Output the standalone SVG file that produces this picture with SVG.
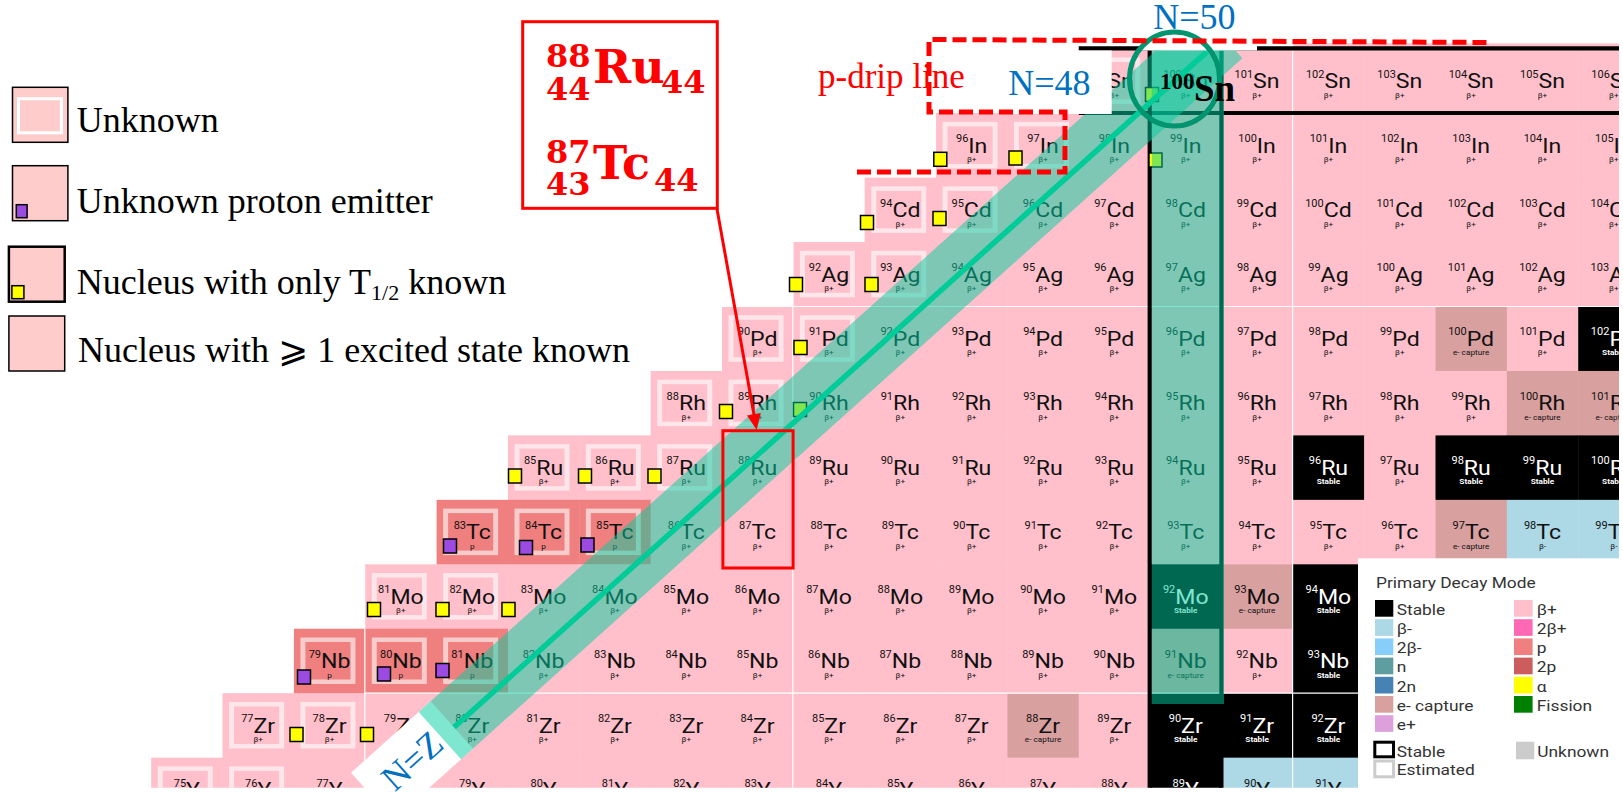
<svg xmlns="http://www.w3.org/2000/svg" width="1623" height="801" viewBox="0 0 1623 801">
<defs>
<style>
.bp{fill:#FFC0CB}.st{fill:#000}.ec{fill:#D9A0A0}.pp{fill:#F08080}.bm{fill:#ADD8E6}
.s{font-family:Roboto,'Liberation Sans',sans-serif;font-size:21px;text-anchor:middle;fill:#111}
.m{font-size:10px}
.d{font-family:Roboto,'Liberation Sans',sans-serif;font-size:7.5px;text-anchor:middle;fill:#111}
.w .s,.w .d{fill:#fff}.w .d{font-weight:bold}
.es{fill:none;stroke:#fff;stroke-opacity:.6;stroke-width:4.5}
.ym{fill:#FFFF00;stroke:#000;stroke-width:1.5}.pm{fill:#9B4BE2;stroke:#000;stroke-width:1.5}
.lg{font-family:'Liberation Serif','DejaVu Sans',serif;font-size:36px;fill:#000}
.bl{font-family:'Liberation Serif',serif;font-size:36px;fill:#0070C0}
.rd{font-family:'DejaVu Serif','Liberation Serif',serif;font-weight:bold;fill:#FF0000}
.lt{font-family:Roboto,'Liberation Sans',sans-serif;font-size:15.5px;fill:#333}
.ov{fill:#00CDA0;fill-opacity:.5}
.mg{stroke:#000;stroke-width:4.2}
.tl{stroke:#fff;stroke-width:1.2}
</style>
<clipPath id="cc"><rect x="0" y="43" width="1619" height="744.7"/></clipPath>
</defs>
<rect width="1623" height="801" fill="#fff"/>

<g id="chart" clip-path="url(#cc)">
<rect id="sb-sliver" x="1292.8" y="43.3" width="330" height="5.6" class="bp"/>
<!-- Sn -->
<g id="Sn99" transform="translate(1078.75 48.7) scale(1.1 1)"><rect class="bp" width="65.3" height="65"/><rect class="es" x="8.2" y="11" width="45.5" height="42"/><text class="s" x="32.4" y="39.5"><tspan class="m" dy="-10.5">99</tspan><tspan dy="10.5">Sn</tspan></text><text class="d" x="32.4" y="49">β+</text></g>
<g id="Sn100" transform="translate(1150.1 48.7) scale(1.1 1)"><rect class="bp" width="65.3" height="65"/><text class="s" x="32.4" y="39.5"><tspan class="m" dy="-10.5">100</tspan><tspan dy="10.5">Sn</tspan></text><text class="d" x="32.4" y="49">β+</text></g>
<g id="Sn101" transform="translate(1221.45 48.7) scale(1.1 1)"><rect class="bp" width="65.3" height="65"/><text class="s" x="32.4" y="39.5"><tspan class="m" dy="-10.5">101</tspan><tspan dy="10.5">Sn</tspan></text><text class="d" x="32.4" y="49">β+</text></g>
<g id="Sn102" transform="translate(1292.8 48.7) scale(1.1 1)"><rect class="bp" width="65.3" height="65"/><text class="s" x="32.4" y="39.5"><tspan class="m" dy="-10.5">102</tspan><tspan dy="10.5">Sn</tspan></text><text class="d" x="32.4" y="49">β+</text></g>
<g id="Sn103" transform="translate(1364.15 48.7) scale(1.1 1)"><rect class="bp" width="65.3" height="65"/><text class="s" x="32.4" y="39.5"><tspan class="m" dy="-10.5">103</tspan><tspan dy="10.5">Sn</tspan></text><text class="d" x="32.4" y="49">β+</text></g>
<g id="Sn104" transform="translate(1435.5 48.7) scale(1.1 1)"><rect class="bp" width="65.3" height="65"/><text class="s" x="32.4" y="39.5"><tspan class="m" dy="-10.5">104</tspan><tspan dy="10.5">Sn</tspan></text><text class="d" x="32.4" y="49">β+</text></g>
<g id="Sn105" transform="translate(1506.85 48.7) scale(1.1 1)"><rect class="bp" width="65.3" height="65"/><text class="s" x="32.4" y="39.5"><tspan class="m" dy="-10.5">105</tspan><tspan dy="10.5">Sn</tspan></text><text class="d" x="32.4" y="49">β+</text></g>
<g id="Sn106" transform="translate(1578.2 48.7) scale(1.1 1)"><rect class="bp" width="65.3" height="65"/><text class="s" x="32.4" y="39.5"><tspan class="m" dy="-10.5">106</tspan><tspan dy="10.5">Sn</tspan></text><text class="d" x="32.4" y="49">β+</text></g>
<!-- In -->
<g id="In96" transform="translate(936.05 113.15) scale(1.1 1)"><rect class="bp" width="65.3" height="65"/><rect class="es" x="8.2" y="11" width="45.5" height="42"/><text class="s" x="32.4" y="39.5"><tspan class="m" dy="-10.5">96</tspan><tspan dy="10.5">In</tspan></text><text class="d" x="32.4" y="49">β+</text></g>
<g id="In97" transform="translate(1007.4 113.15) scale(1.1 1)"><rect class="bp" width="65.3" height="65"/><rect class="es" x="8.2" y="11" width="45.5" height="42"/><text class="s" x="32.4" y="39.5"><tspan class="m" dy="-10.5">97</tspan><tspan dy="10.5">In</tspan></text><text class="d" x="32.4" y="49">β+</text></g>
<g id="In98" transform="translate(1078.75 113.15) scale(1.1 1)"><rect class="bp" width="65.3" height="65"/><text class="s" x="32.4" y="39.5"><tspan class="m" dy="-10.5">98</tspan><tspan dy="10.5">In</tspan></text><text class="d" x="32.4" y="49">β+</text></g>
<g id="In99" transform="translate(1150.1 113.15) scale(1.1 1)"><rect class="bp" width="65.3" height="65"/><text class="s" x="32.4" y="39.5"><tspan class="m" dy="-10.5">99</tspan><tspan dy="10.5">In</tspan></text><text class="d" x="32.4" y="49">β+</text></g>
<g id="In100" transform="translate(1221.45 113.15) scale(1.1 1)"><rect class="bp" width="65.3" height="65"/><text class="s" x="32.4" y="39.5"><tspan class="m" dy="-10.5">100</tspan><tspan dy="10.5">In</tspan></text><text class="d" x="32.4" y="49">β+</text></g>
<g id="In101" transform="translate(1292.8 113.15) scale(1.1 1)"><rect class="bp" width="65.3" height="65"/><text class="s" x="32.4" y="39.5"><tspan class="m" dy="-10.5">101</tspan><tspan dy="10.5">In</tspan></text><text class="d" x="32.4" y="49">β+</text></g>
<g id="In102" transform="translate(1364.15 113.15) scale(1.1 1)"><rect class="bp" width="65.3" height="65"/><text class="s" x="32.4" y="39.5"><tspan class="m" dy="-10.5">102</tspan><tspan dy="10.5">In</tspan></text><text class="d" x="32.4" y="49">β+</text></g>
<g id="In103" transform="translate(1435.5 113.15) scale(1.1 1)"><rect class="bp" width="65.3" height="65"/><text class="s" x="32.4" y="39.5"><tspan class="m" dy="-10.5">103</tspan><tspan dy="10.5">In</tspan></text><text class="d" x="32.4" y="49">β+</text></g>
<g id="In104" transform="translate(1506.85 113.15) scale(1.1 1)"><rect class="bp" width="65.3" height="65"/><text class="s" x="32.4" y="39.5"><tspan class="m" dy="-10.5">104</tspan><tspan dy="10.5">In</tspan></text><text class="d" x="32.4" y="49">β+</text></g>
<g id="In105" transform="translate(1578.2 113.15) scale(1.1 1)"><rect class="bp" width="65.3" height="65"/><text class="s" x="32.4" y="39.5"><tspan class="m" dy="-10.5">105</tspan><tspan dy="10.5">In</tspan></text><text class="d" x="32.4" y="49">β+</text></g>
<!-- Cd -->
<g id="Cd94" transform="translate(864.7 177.6) scale(1.1 1)"><rect class="bp" width="65.3" height="65"/><rect class="es" x="8.2" y="11" width="45.5" height="42"/><text class="s" x="32.4" y="39.5"><tspan class="m" dy="-10.5">94</tspan><tspan dy="10.5">Cd</tspan></text><text class="d" x="32.4" y="49">β+</text></g>
<g id="Cd95" transform="translate(936.05 177.6) scale(1.1 1)"><rect class="bp" width="65.3" height="65"/><rect class="es" x="8.2" y="11" width="45.5" height="42"/><text class="s" x="32.4" y="39.5"><tspan class="m" dy="-10.5">95</tspan><tspan dy="10.5">Cd</tspan></text><text class="d" x="32.4" y="49">β+</text></g>
<g id="Cd96" transform="translate(1007.4 177.6) scale(1.1 1)"><rect class="bp" width="65.3" height="65"/><text class="s" x="32.4" y="39.5"><tspan class="m" dy="-10.5">96</tspan><tspan dy="10.5">Cd</tspan></text><text class="d" x="32.4" y="49">β+</text></g>
<g id="Cd97" transform="translate(1078.75 177.6) scale(1.1 1)"><rect class="bp" width="65.3" height="65"/><text class="s" x="32.4" y="39.5"><tspan class="m" dy="-10.5">97</tspan><tspan dy="10.5">Cd</tspan></text><text class="d" x="32.4" y="49">β+</text></g>
<g id="Cd98" transform="translate(1150.1 177.6) scale(1.1 1)"><rect class="bp" width="65.3" height="65"/><text class="s" x="32.4" y="39.5"><tspan class="m" dy="-10.5">98</tspan><tspan dy="10.5">Cd</tspan></text><text class="d" x="32.4" y="49">β+</text></g>
<g id="Cd99" transform="translate(1221.45 177.6) scale(1.1 1)"><rect class="bp" width="65.3" height="65"/><text class="s" x="32.4" y="39.5"><tspan class="m" dy="-10.5">99</tspan><tspan dy="10.5">Cd</tspan></text><text class="d" x="32.4" y="49">β+</text></g>
<g id="Cd100" transform="translate(1292.8 177.6) scale(1.1 1)"><rect class="bp" width="65.3" height="65"/><text class="s" x="32.4" y="39.5"><tspan class="m" dy="-10.5">100</tspan><tspan dy="10.5">Cd</tspan></text><text class="d" x="32.4" y="49">β+</text></g>
<g id="Cd101" transform="translate(1364.15 177.6) scale(1.1 1)"><rect class="bp" width="65.3" height="65"/><text class="s" x="32.4" y="39.5"><tspan class="m" dy="-10.5">101</tspan><tspan dy="10.5">Cd</tspan></text><text class="d" x="32.4" y="49">β+</text></g>
<g id="Cd102" transform="translate(1435.5 177.6) scale(1.1 1)"><rect class="bp" width="65.3" height="65"/><text class="s" x="32.4" y="39.5"><tspan class="m" dy="-10.5">102</tspan><tspan dy="10.5">Cd</tspan></text><text class="d" x="32.4" y="49">β+</text></g>
<g id="Cd103" transform="translate(1506.85 177.6) scale(1.1 1)"><rect class="bp" width="65.3" height="65"/><text class="s" x="32.4" y="39.5"><tspan class="m" dy="-10.5">103</tspan><tspan dy="10.5">Cd</tspan></text><text class="d" x="32.4" y="49">β+</text></g>
<g id="Cd104" transform="translate(1578.2 177.6) scale(1.1 1)"><rect class="bp" width="65.3" height="65"/><text class="s" x="32.4" y="39.5"><tspan class="m" dy="-10.5">104</tspan><tspan dy="10.5">Cd</tspan></text><text class="d" x="32.4" y="49">β+</text></g>
<!-- Ag -->
<g id="Ag92" transform="translate(793.35 242.05) scale(1.1 1)"><rect class="bp" width="65.3" height="65"/><rect class="es" x="8.2" y="11" width="45.5" height="42"/><text class="s" x="32.4" y="39.5"><tspan class="m" dy="-10.5">92</tspan><tspan dy="10.5">Ag</tspan></text><text class="d" x="32.4" y="49">β+</text></g>
<g id="Ag93" transform="translate(864.7 242.05) scale(1.1 1)"><rect class="bp" width="65.3" height="65"/><rect class="es" x="8.2" y="11" width="45.5" height="42"/><text class="s" x="32.4" y="39.5"><tspan class="m" dy="-10.5">93</tspan><tspan dy="10.5">Ag</tspan></text><text class="d" x="32.4" y="49">β+</text></g>
<g id="Ag94" transform="translate(936.05 242.05) scale(1.1 1)"><rect class="bp" width="65.3" height="65"/><text class="s" x="32.4" y="39.5"><tspan class="m" dy="-10.5">94</tspan><tspan dy="10.5">Ag</tspan></text><text class="d" x="32.4" y="49">β+</text></g>
<g id="Ag95" transform="translate(1007.4 242.05) scale(1.1 1)"><rect class="bp" width="65.3" height="65"/><text class="s" x="32.4" y="39.5"><tspan class="m" dy="-10.5">95</tspan><tspan dy="10.5">Ag</tspan></text><text class="d" x="32.4" y="49">β+</text></g>
<g id="Ag96" transform="translate(1078.75 242.05) scale(1.1 1)"><rect class="bp" width="65.3" height="65"/><text class="s" x="32.4" y="39.5"><tspan class="m" dy="-10.5">96</tspan><tspan dy="10.5">Ag</tspan></text><text class="d" x="32.4" y="49">β+</text></g>
<g id="Ag97" transform="translate(1150.1 242.05) scale(1.1 1)"><rect class="bp" width="65.3" height="65"/><text class="s" x="32.4" y="39.5"><tspan class="m" dy="-10.5">97</tspan><tspan dy="10.5">Ag</tspan></text><text class="d" x="32.4" y="49">β+</text></g>
<g id="Ag98" transform="translate(1221.45 242.05) scale(1.1 1)"><rect class="bp" width="65.3" height="65"/><text class="s" x="32.4" y="39.5"><tspan class="m" dy="-10.5">98</tspan><tspan dy="10.5">Ag</tspan></text><text class="d" x="32.4" y="49">β+</text></g>
<g id="Ag99" transform="translate(1292.8 242.05) scale(1.1 1)"><rect class="bp" width="65.3" height="65"/><text class="s" x="32.4" y="39.5"><tspan class="m" dy="-10.5">99</tspan><tspan dy="10.5">Ag</tspan></text><text class="d" x="32.4" y="49">β+</text></g>
<g id="Ag100" transform="translate(1364.15 242.05) scale(1.1 1)"><rect class="bp" width="65.3" height="65"/><text class="s" x="32.4" y="39.5"><tspan class="m" dy="-10.5">100</tspan><tspan dy="10.5">Ag</tspan></text><text class="d" x="32.4" y="49">β+</text></g>
<g id="Ag101" transform="translate(1435.5 242.05) scale(1.1 1)"><rect class="bp" width="65.3" height="65"/><text class="s" x="32.4" y="39.5"><tspan class="m" dy="-10.5">101</tspan><tspan dy="10.5">Ag</tspan></text><text class="d" x="32.4" y="49">β+</text></g>
<g id="Ag102" transform="translate(1506.85 242.05) scale(1.1 1)"><rect class="bp" width="65.3" height="65"/><text class="s" x="32.4" y="39.5"><tspan class="m" dy="-10.5">102</tspan><tspan dy="10.5">Ag</tspan></text><text class="d" x="32.4" y="49">β+</text></g>
<g id="Ag103" transform="translate(1578.2 242.05) scale(1.1 1)"><rect class="bp" width="65.3" height="65"/><text class="s" x="32.4" y="39.5"><tspan class="m" dy="-10.5">103</tspan><tspan dy="10.5">Ag</tspan></text><text class="d" x="32.4" y="49">β+</text></g>
<!-- Pd -->
<g id="Pd90" transform="translate(722 306.5) scale(1.1 1)"><rect class="bp" width="65.3" height="65"/><rect class="es" x="8.2" y="11" width="45.5" height="42"/><text class="s" x="32.4" y="39.5"><tspan class="m" dy="-10.5">90</tspan><tspan dy="10.5">Pd</tspan></text><text class="d" x="32.4" y="49">β+</text></g>
<g id="Pd91" transform="translate(793.35 306.5) scale(1.1 1)"><rect class="bp" width="65.3" height="65"/><rect class="es" x="8.2" y="11" width="45.5" height="42"/><text class="s" x="32.4" y="39.5"><tspan class="m" dy="-10.5">91</tspan><tspan dy="10.5">Pd</tspan></text><text class="d" x="32.4" y="49">β+</text></g>
<g id="Pd92" transform="translate(864.7 306.5) scale(1.1 1)"><rect class="bp" width="65.3" height="65"/><text class="s" x="32.4" y="39.5"><tspan class="m" dy="-10.5">92</tspan><tspan dy="10.5">Pd</tspan></text><text class="d" x="32.4" y="49">β+</text></g>
<g id="Pd93" transform="translate(936.05 306.5) scale(1.1 1)"><rect class="bp" width="65.3" height="65"/><text class="s" x="32.4" y="39.5"><tspan class="m" dy="-10.5">93</tspan><tspan dy="10.5">Pd</tspan></text><text class="d" x="32.4" y="49">β+</text></g>
<g id="Pd94" transform="translate(1007.4 306.5) scale(1.1 1)"><rect class="bp" width="65.3" height="65"/><text class="s" x="32.4" y="39.5"><tspan class="m" dy="-10.5">94</tspan><tspan dy="10.5">Pd</tspan></text><text class="d" x="32.4" y="49">β+</text></g>
<g id="Pd95" transform="translate(1078.75 306.5) scale(1.1 1)"><rect class="bp" width="65.3" height="65"/><text class="s" x="32.4" y="39.5"><tspan class="m" dy="-10.5">95</tspan><tspan dy="10.5">Pd</tspan></text><text class="d" x="32.4" y="49">β+</text></g>
<g id="Pd96" transform="translate(1150.1 306.5) scale(1.1 1)"><rect class="bp" width="65.3" height="65"/><text class="s" x="32.4" y="39.5"><tspan class="m" dy="-10.5">96</tspan><tspan dy="10.5">Pd</tspan></text><text class="d" x="32.4" y="49">β+</text></g>
<g id="Pd97" transform="translate(1221.45 306.5) scale(1.1 1)"><rect class="bp" width="65.3" height="65"/><text class="s" x="32.4" y="39.5"><tspan class="m" dy="-10.5">97</tspan><tspan dy="10.5">Pd</tspan></text><text class="d" x="32.4" y="49">β+</text></g>
<g id="Pd98" transform="translate(1292.8 306.5) scale(1.1 1)"><rect class="bp" width="65.3" height="65"/><text class="s" x="32.4" y="39.5"><tspan class="m" dy="-10.5">98</tspan><tspan dy="10.5">Pd</tspan></text><text class="d" x="32.4" y="49">β+</text></g>
<g id="Pd99" transform="translate(1364.15 306.5) scale(1.1 1)"><rect class="bp" width="65.3" height="65"/><text class="s" x="32.4" y="39.5"><tspan class="m" dy="-10.5">99</tspan><tspan dy="10.5">Pd</tspan></text><text class="d" x="32.4" y="49">β+</text></g>
<g id="Pd100" transform="translate(1435.5 306.5) scale(1.1 1)"><rect class="ec" width="65.3" height="65"/><text class="s" x="32.4" y="39.5"><tspan class="m" dy="-10.5">100</tspan><tspan dy="10.5">Pd</tspan></text><text class="d" x="32.4" y="49">e- capture</text></g>
<g id="Pd101" transform="translate(1506.85 306.5) scale(1.1 1)"><rect class="bp" width="65.3" height="65"/><text class="s" x="32.4" y="39.5"><tspan class="m" dy="-10.5">101</tspan><tspan dy="10.5">Pd</tspan></text><text class="d" x="32.4" y="49">β+</text></g>
<g id="Pd102" class="w" transform="translate(1578.2 306.5) scale(1.1 1)"><rect class="st" width="65.3" height="65"/><text class="s" x="32.4" y="39.5"><tspan class="m" dy="-10.5">102</tspan><tspan dy="10.5">Pd</tspan></text><text class="d" x="32.4" y="49">Stable</text></g>
<!-- Rh -->
<g id="Rh88" transform="translate(650.65 370.95) scale(1.1 1)"><rect class="bp" width="65.3" height="65"/><rect class="es" x="8.2" y="11" width="45.5" height="42"/><text class="s" x="32.4" y="39.5"><tspan class="m" dy="-10.5">88</tspan><tspan dy="10.5">Rh</tspan></text><text class="d" x="32.4" y="49">β+</text></g>
<g id="Rh89" transform="translate(722 370.95) scale(1.1 1)"><rect class="bp" width="65.3" height="65"/><rect class="es" x="8.2" y="11" width="45.5" height="42"/><text class="s" x="32.4" y="39.5"><tspan class="m" dy="-10.5">89</tspan><tspan dy="10.5">Rh</tspan></text><text class="d" x="32.4" y="49">β+</text></g>
<g id="Rh90" transform="translate(793.35 370.95) scale(1.1 1)"><rect class="bp" width="65.3" height="65"/><text class="s" x="32.4" y="39.5"><tspan class="m" dy="-10.5">90</tspan><tspan dy="10.5">Rh</tspan></text><text class="d" x="32.4" y="49">β+</text></g>
<g id="Rh91" transform="translate(864.7 370.95) scale(1.1 1)"><rect class="bp" width="65.3" height="65"/><text class="s" x="32.4" y="39.5"><tspan class="m" dy="-10.5">91</tspan><tspan dy="10.5">Rh</tspan></text><text class="d" x="32.4" y="49">β+</text></g>
<g id="Rh92" transform="translate(936.05 370.95) scale(1.1 1)"><rect class="bp" width="65.3" height="65"/><text class="s" x="32.4" y="39.5"><tspan class="m" dy="-10.5">92</tspan><tspan dy="10.5">Rh</tspan></text><text class="d" x="32.4" y="49">β+</text></g>
<g id="Rh93" transform="translate(1007.4 370.95) scale(1.1 1)"><rect class="bp" width="65.3" height="65"/><text class="s" x="32.4" y="39.5"><tspan class="m" dy="-10.5">93</tspan><tspan dy="10.5">Rh</tspan></text><text class="d" x="32.4" y="49">β+</text></g>
<g id="Rh94" transform="translate(1078.75 370.95) scale(1.1 1)"><rect class="bp" width="65.3" height="65"/><text class="s" x="32.4" y="39.5"><tspan class="m" dy="-10.5">94</tspan><tspan dy="10.5">Rh</tspan></text><text class="d" x="32.4" y="49">β+</text></g>
<g id="Rh95" transform="translate(1150.1 370.95) scale(1.1 1)"><rect class="bp" width="65.3" height="65"/><text class="s" x="32.4" y="39.5"><tspan class="m" dy="-10.5">95</tspan><tspan dy="10.5">Rh</tspan></text><text class="d" x="32.4" y="49">β+</text></g>
<g id="Rh96" transform="translate(1221.45 370.95) scale(1.1 1)"><rect class="bp" width="65.3" height="65"/><text class="s" x="32.4" y="39.5"><tspan class="m" dy="-10.5">96</tspan><tspan dy="10.5">Rh</tspan></text><text class="d" x="32.4" y="49">β+</text></g>
<g id="Rh97" transform="translate(1292.8 370.95) scale(1.1 1)"><rect class="bp" width="65.3" height="65"/><text class="s" x="32.4" y="39.5"><tspan class="m" dy="-10.5">97</tspan><tspan dy="10.5">Rh</tspan></text><text class="d" x="32.4" y="49">β+</text></g>
<g id="Rh98" transform="translate(1364.15 370.95) scale(1.1 1)"><rect class="bp" width="65.3" height="65"/><text class="s" x="32.4" y="39.5"><tspan class="m" dy="-10.5">98</tspan><tspan dy="10.5">Rh</tspan></text><text class="d" x="32.4" y="49">β+</text></g>
<g id="Rh99" transform="translate(1435.5 370.95) scale(1.1 1)"><rect class="bp" width="65.3" height="65"/><text class="s" x="32.4" y="39.5"><tspan class="m" dy="-10.5">99</tspan><tspan dy="10.5">Rh</tspan></text><text class="d" x="32.4" y="49">β+</text></g>
<g id="Rh100" transform="translate(1506.85 370.95) scale(1.1 1)"><rect class="ec" width="65.3" height="65"/><text class="s" x="32.4" y="39.5"><tspan class="m" dy="-10.5">100</tspan><tspan dy="10.5">Rh</tspan></text><text class="d" x="32.4" y="49">e- capture</text></g>
<g id="Rh101" transform="translate(1578.2 370.95) scale(1.1 1)"><rect class="ec" width="65.3" height="65"/><text class="s" x="32.4" y="39.5"><tspan class="m" dy="-10.5">101</tspan><tspan dy="10.5">Rh</tspan></text><text class="d" x="32.4" y="49">e- capture</text></g>
<!-- Ru -->
<g id="Ru85" transform="translate(507.95 435.4) scale(1.1 1)"><rect class="bp" width="65.3" height="65"/><rect class="es" x="8.2" y="11" width="45.5" height="42"/><text class="s" x="32.4" y="39.5"><tspan class="m" dy="-10.5">85</tspan><tspan dy="10.5">Ru</tspan></text><text class="d" x="32.4" y="49">β+</text></g>
<g id="Ru86" transform="translate(579.3 435.4) scale(1.1 1)"><rect class="bp" width="65.3" height="65"/><rect class="es" x="8.2" y="11" width="45.5" height="42"/><text class="s" x="32.4" y="39.5"><tspan class="m" dy="-10.5">86</tspan><tspan dy="10.5">Ru</tspan></text><text class="d" x="32.4" y="49">β+</text></g>
<g id="Ru87" transform="translate(650.65 435.4) scale(1.1 1)"><rect class="bp" width="65.3" height="65"/><rect class="es" x="8.2" y="11" width="45.5" height="42"/><text class="s" x="32.4" y="39.5"><tspan class="m" dy="-10.5">87</tspan><tspan dy="10.5">Ru</tspan></text><text class="d" x="32.4" y="49">β+</text></g>
<g id="Ru88" transform="translate(722 435.4) scale(1.1 1)"><rect class="bp" width="65.3" height="65"/><text class="s" x="32.4" y="39.5"><tspan class="m" dy="-10.5">88</tspan><tspan dy="10.5">Ru</tspan></text><text class="d" x="32.4" y="49">β+</text></g>
<g id="Ru89" transform="translate(793.35 435.4) scale(1.1 1)"><rect class="bp" width="65.3" height="65"/><text class="s" x="32.4" y="39.5"><tspan class="m" dy="-10.5">89</tspan><tspan dy="10.5">Ru</tspan></text><text class="d" x="32.4" y="49">β+</text></g>
<g id="Ru90" transform="translate(864.7 435.4) scale(1.1 1)"><rect class="bp" width="65.3" height="65"/><text class="s" x="32.4" y="39.5"><tspan class="m" dy="-10.5">90</tspan><tspan dy="10.5">Ru</tspan></text><text class="d" x="32.4" y="49">β+</text></g>
<g id="Ru91" transform="translate(936.05 435.4) scale(1.1 1)"><rect class="bp" width="65.3" height="65"/><text class="s" x="32.4" y="39.5"><tspan class="m" dy="-10.5">91</tspan><tspan dy="10.5">Ru</tspan></text><text class="d" x="32.4" y="49">β+</text></g>
<g id="Ru92" transform="translate(1007.4 435.4) scale(1.1 1)"><rect class="bp" width="65.3" height="65"/><text class="s" x="32.4" y="39.5"><tspan class="m" dy="-10.5">92</tspan><tspan dy="10.5">Ru</tspan></text><text class="d" x="32.4" y="49">β+</text></g>
<g id="Ru93" transform="translate(1078.75 435.4) scale(1.1 1)"><rect class="bp" width="65.3" height="65"/><text class="s" x="32.4" y="39.5"><tspan class="m" dy="-10.5">93</tspan><tspan dy="10.5">Ru</tspan></text><text class="d" x="32.4" y="49">β+</text></g>
<g id="Ru94" transform="translate(1150.1 435.4) scale(1.1 1)"><rect class="bp" width="65.3" height="65"/><text class="s" x="32.4" y="39.5"><tspan class="m" dy="-10.5">94</tspan><tspan dy="10.5">Ru</tspan></text><text class="d" x="32.4" y="49">β+</text></g>
<g id="Ru95" transform="translate(1221.45 435.4) scale(1.1 1)"><rect class="bp" width="65.3" height="65"/><text class="s" x="32.4" y="39.5"><tspan class="m" dy="-10.5">95</tspan><tspan dy="10.5">Ru</tspan></text><text class="d" x="32.4" y="49">β+</text></g>
<g id="Ru96" class="w" transform="translate(1292.8 435.4) scale(1.1 1)"><rect class="st" width="65.3" height="65"/><text class="s" x="32.4" y="39.5"><tspan class="m" dy="-10.5">96</tspan><tspan dy="10.5">Ru</tspan></text><text class="d" x="32.4" y="49">Stable</text></g>
<g id="Ru97" transform="translate(1364.15 435.4) scale(1.1 1)"><rect class="bp" width="65.3" height="65"/><text class="s" x="32.4" y="39.5"><tspan class="m" dy="-10.5">97</tspan><tspan dy="10.5">Ru</tspan></text><text class="d" x="32.4" y="49">β+</text></g>
<g id="Ru98" class="w" transform="translate(1435.5 435.4) scale(1.1 1)"><rect class="st" width="65.3" height="65"/><text class="s" x="32.4" y="39.5"><tspan class="m" dy="-10.5">98</tspan><tspan dy="10.5">Ru</tspan></text><text class="d" x="32.4" y="49">Stable</text></g>
<g id="Ru99" class="w" transform="translate(1506.85 435.4) scale(1.1 1)"><rect class="st" width="65.3" height="65"/><text class="s" x="32.4" y="39.5"><tspan class="m" dy="-10.5">99</tspan><tspan dy="10.5">Ru</tspan></text><text class="d" x="32.4" y="49">Stable</text></g>
<g id="Ru100" class="w" transform="translate(1578.2 435.4) scale(1.1 1)"><rect class="st" width="65.3" height="65"/><text class="s" x="32.4" y="39.5"><tspan class="m" dy="-10.5">100</tspan><tspan dy="10.5">Ru</tspan></text><text class="d" x="32.4" y="49">Stable</text></g>
<!-- Tc -->
<g id="Tc83" transform="translate(436.6 499.85) scale(1.1 1)"><rect class="pp" width="65.3" height="65"/><rect class="es" x="8.2" y="11" width="45.5" height="42"/><text class="s" x="32.4" y="39.5"><tspan class="m" dy="-10.5">83</tspan><tspan dy="10.5">Tc</tspan></text><text class="d" x="32.4" y="49">p</text></g>
<g id="Tc84" transform="translate(507.95 499.85) scale(1.1 1)"><rect class="pp" width="65.3" height="65"/><rect class="es" x="8.2" y="11" width="45.5" height="42"/><text class="s" x="32.4" y="39.5"><tspan class="m" dy="-10.5">84</tspan><tspan dy="10.5">Tc</tspan></text><text class="d" x="32.4" y="49">p</text></g>
<g id="Tc85" transform="translate(579.3 499.85) scale(1.1 1)"><rect class="pp" width="65.3" height="65"/><rect class="es" x="8.2" y="11" width="45.5" height="42"/><text class="s" x="32.4" y="39.5"><tspan class="m" dy="-10.5">85</tspan><tspan dy="10.5">Tc</tspan></text><text class="d" x="32.4" y="49">p</text></g>
<g id="Tc86" transform="translate(650.65 499.85) scale(1.1 1)"><rect class="bp" width="65.3" height="65"/><text class="s" x="32.4" y="39.5"><tspan class="m" dy="-10.5">86</tspan><tspan dy="10.5">Tc</tspan></text><text class="d" x="32.4" y="49">β+</text></g>
<g id="Tc87" transform="translate(722 499.85) scale(1.1 1)"><rect class="bp" width="65.3" height="65"/><text class="s" x="32.4" y="39.5"><tspan class="m" dy="-10.5">87</tspan><tspan dy="10.5">Tc</tspan></text><text class="d" x="32.4" y="49">β+</text></g>
<g id="Tc88" transform="translate(793.35 499.85) scale(1.1 1)"><rect class="bp" width="65.3" height="65"/><text class="s" x="32.4" y="39.5"><tspan class="m" dy="-10.5">88</tspan><tspan dy="10.5">Tc</tspan></text><text class="d" x="32.4" y="49">β+</text></g>
<g id="Tc89" transform="translate(864.7 499.85) scale(1.1 1)"><rect class="bp" width="65.3" height="65"/><text class="s" x="32.4" y="39.5"><tspan class="m" dy="-10.5">89</tspan><tspan dy="10.5">Tc</tspan></text><text class="d" x="32.4" y="49">β+</text></g>
<g id="Tc90" transform="translate(936.05 499.85) scale(1.1 1)"><rect class="bp" width="65.3" height="65"/><text class="s" x="32.4" y="39.5"><tspan class="m" dy="-10.5">90</tspan><tspan dy="10.5">Tc</tspan></text><text class="d" x="32.4" y="49">β+</text></g>
<g id="Tc91" transform="translate(1007.4 499.85) scale(1.1 1)"><rect class="bp" width="65.3" height="65"/><text class="s" x="32.4" y="39.5"><tspan class="m" dy="-10.5">91</tspan><tspan dy="10.5">Tc</tspan></text><text class="d" x="32.4" y="49">β+</text></g>
<g id="Tc92" transform="translate(1078.75 499.85) scale(1.1 1)"><rect class="bp" width="65.3" height="65"/><text class="s" x="32.4" y="39.5"><tspan class="m" dy="-10.5">92</tspan><tspan dy="10.5">Tc</tspan></text><text class="d" x="32.4" y="49">β+</text></g>
<g id="Tc93" transform="translate(1150.1 499.85) scale(1.1 1)"><rect class="bp" width="65.3" height="65"/><text class="s" x="32.4" y="39.5"><tspan class="m" dy="-10.5">93</tspan><tspan dy="10.5">Tc</tspan></text><text class="d" x="32.4" y="49">β+</text></g>
<g id="Tc94" transform="translate(1221.45 499.85) scale(1.1 1)"><rect class="bp" width="65.3" height="65"/><text class="s" x="32.4" y="39.5"><tspan class="m" dy="-10.5">94</tspan><tspan dy="10.5">Tc</tspan></text><text class="d" x="32.4" y="49">β+</text></g>
<g id="Tc95" transform="translate(1292.8 499.85) scale(1.1 1)"><rect class="bp" width="65.3" height="65"/><text class="s" x="32.4" y="39.5"><tspan class="m" dy="-10.5">95</tspan><tspan dy="10.5">Tc</tspan></text><text class="d" x="32.4" y="49">β+</text></g>
<g id="Tc96" transform="translate(1364.15 499.85) scale(1.1 1)"><rect class="bp" width="65.3" height="65"/><text class="s" x="32.4" y="39.5"><tspan class="m" dy="-10.5">96</tspan><tspan dy="10.5">Tc</tspan></text><text class="d" x="32.4" y="49">β+</text></g>
<g id="Tc97" transform="translate(1435.5 499.85) scale(1.1 1)"><rect class="ec" width="65.3" height="65"/><text class="s" x="32.4" y="39.5"><tspan class="m" dy="-10.5">97</tspan><tspan dy="10.5">Tc</tspan></text><text class="d" x="32.4" y="49">e- capture</text></g>
<g id="Tc98" transform="translate(1506.85 499.85) scale(1.1 1)"><rect class="bm" width="65.3" height="65"/><text class="s" x="32.4" y="39.5"><tspan class="m" dy="-10.5">98</tspan><tspan dy="10.5">Tc</tspan></text><text class="d" x="32.4" y="49">β-</text></g>
<g id="Tc99" transform="translate(1578.2 499.85) scale(1.1 1)"><rect class="bm" width="65.3" height="65"/><text class="s" x="32.4" y="39.5"><tspan class="m" dy="-10.5">99</tspan><tspan dy="10.5">Tc</tspan></text><text class="d" x="32.4" y="49">β-</text></g>
<!-- Mo -->
<g id="Mo81" transform="translate(365.25 564.3) scale(1.1 1)"><rect class="bp" width="65.3" height="65"/><rect class="es" x="8.2" y="11" width="45.5" height="42"/><text class="s" x="32.4" y="39.5"><tspan class="m" dy="-10.5">81</tspan><tspan dy="10.5">Mo</tspan></text><text class="d" x="32.4" y="49">β+</text></g>
<g id="Mo82" transform="translate(436.6 564.3) scale(1.1 1)"><rect class="bp" width="65.3" height="65"/><rect class="es" x="8.2" y="11" width="45.5" height="42"/><text class="s" x="32.4" y="39.5"><tspan class="m" dy="-10.5">82</tspan><tspan dy="10.5">Mo</tspan></text><text class="d" x="32.4" y="49">β+</text></g>
<g id="Mo83" transform="translate(507.95 564.3) scale(1.1 1)"><rect class="bp" width="65.3" height="65"/><text class="s" x="32.4" y="39.5"><tspan class="m" dy="-10.5">83</tspan><tspan dy="10.5">Mo</tspan></text><text class="d" x="32.4" y="49">β+</text></g>
<g id="Mo84" transform="translate(579.3 564.3) scale(1.1 1)"><rect class="bp" width="65.3" height="65"/><text class="s" x="32.4" y="39.5"><tspan class="m" dy="-10.5">84</tspan><tspan dy="10.5">Mo</tspan></text><text class="d" x="32.4" y="49">β+</text></g>
<g id="Mo85" transform="translate(650.65 564.3) scale(1.1 1)"><rect class="bp" width="65.3" height="65"/><text class="s" x="32.4" y="39.5"><tspan class="m" dy="-10.5">85</tspan><tspan dy="10.5">Mo</tspan></text><text class="d" x="32.4" y="49">β+</text></g>
<g id="Mo86" transform="translate(722 564.3) scale(1.1 1)"><rect class="bp" width="65.3" height="65"/><text class="s" x="32.4" y="39.5"><tspan class="m" dy="-10.5">86</tspan><tspan dy="10.5">Mo</tspan></text><text class="d" x="32.4" y="49">β+</text></g>
<g id="Mo87" transform="translate(793.35 564.3) scale(1.1 1)"><rect class="bp" width="65.3" height="65"/><text class="s" x="32.4" y="39.5"><tspan class="m" dy="-10.5">87</tspan><tspan dy="10.5">Mo</tspan></text><text class="d" x="32.4" y="49">β+</text></g>
<g id="Mo88" transform="translate(864.7 564.3) scale(1.1 1)"><rect class="bp" width="65.3" height="65"/><text class="s" x="32.4" y="39.5"><tspan class="m" dy="-10.5">88</tspan><tspan dy="10.5">Mo</tspan></text><text class="d" x="32.4" y="49">β+</text></g>
<g id="Mo89" transform="translate(936.05 564.3) scale(1.1 1)"><rect class="bp" width="65.3" height="65"/><text class="s" x="32.4" y="39.5"><tspan class="m" dy="-10.5">89</tspan><tspan dy="10.5">Mo</tspan></text><text class="d" x="32.4" y="49">β+</text></g>
<g id="Mo90" transform="translate(1007.4 564.3) scale(1.1 1)"><rect class="bp" width="65.3" height="65"/><text class="s" x="32.4" y="39.5"><tspan class="m" dy="-10.5">90</tspan><tspan dy="10.5">Mo</tspan></text><text class="d" x="32.4" y="49">β+</text></g>
<g id="Mo91" transform="translate(1078.75 564.3) scale(1.1 1)"><rect class="bp" width="65.3" height="65"/><text class="s" x="32.4" y="39.5"><tspan class="m" dy="-10.5">91</tspan><tspan dy="10.5">Mo</tspan></text><text class="d" x="32.4" y="49">β+</text></g>
<g id="Mo92" class="w" transform="translate(1150.1 564.3) scale(1.1 1)"><rect class="st" width="65.3" height="65"/><text class="s" x="32.4" y="39.5"><tspan class="m" dy="-10.5">92</tspan><tspan dy="10.5">Mo</tspan></text><text class="d" x="32.4" y="49">Stable</text></g>
<g id="Mo93" transform="translate(1221.45 564.3) scale(1.1 1)"><rect class="ec" width="65.3" height="65"/><text class="s" x="32.4" y="39.5"><tspan class="m" dy="-10.5">93</tspan><tspan dy="10.5">Mo</tspan></text><text class="d" x="32.4" y="49">e- capture</text></g>
<g id="Mo94" class="w" transform="translate(1292.8 564.3) scale(1.1 1)"><rect class="st" width="65.3" height="65"/><text class="s" x="32.4" y="39.5"><tspan class="m" dy="-10.5">94</tspan><tspan dy="10.5">Mo</tspan></text><text class="d" x="32.4" y="49">Stable</text></g>
<!-- Nb -->
<g id="Nb79" transform="translate(293.9 628.75) scale(1.1 1)"><rect class="pp" width="65.3" height="65"/><rect class="es" x="8.2" y="11" width="45.5" height="42"/><text class="s" x="32.4" y="39.5"><tspan class="m" dy="-10.5">79</tspan><tspan dy="10.5">Nb</tspan></text><text class="d" x="32.4" y="49">p</text></g>
<g id="Nb80" transform="translate(365.25 628.75) scale(1.1 1)"><rect class="pp" width="65.3" height="65"/><rect class="es" x="8.2" y="11" width="45.5" height="42"/><text class="s" x="32.4" y="39.5"><tspan class="m" dy="-10.5">80</tspan><tspan dy="10.5">Nb</tspan></text><text class="d" x="32.4" y="49">p</text></g>
<g id="Nb81" transform="translate(436.6 628.75) scale(1.1 1)"><rect class="pp" width="65.3" height="65"/><rect class="es" x="8.2" y="11" width="45.5" height="42"/><text class="s" x="32.4" y="39.5"><tspan class="m" dy="-10.5">81</tspan><tspan dy="10.5">Nb</tspan></text><text class="d" x="32.4" y="49">p</text></g>
<g id="Nb82" transform="translate(507.95 628.75) scale(1.1 1)"><rect class="bp" width="65.3" height="65"/><text class="s" x="32.4" y="39.5"><tspan class="m" dy="-10.5">82</tspan><tspan dy="10.5">Nb</tspan></text><text class="d" x="32.4" y="49">β+</text></g>
<g id="Nb83" transform="translate(579.3 628.75) scale(1.1 1)"><rect class="bp" width="65.3" height="65"/><text class="s" x="32.4" y="39.5"><tspan class="m" dy="-10.5">83</tspan><tspan dy="10.5">Nb</tspan></text><text class="d" x="32.4" y="49">β+</text></g>
<g id="Nb84" transform="translate(650.65 628.75) scale(1.1 1)"><rect class="bp" width="65.3" height="65"/><text class="s" x="32.4" y="39.5"><tspan class="m" dy="-10.5">84</tspan><tspan dy="10.5">Nb</tspan></text><text class="d" x="32.4" y="49">β+</text></g>
<g id="Nb85" transform="translate(722 628.75) scale(1.1 1)"><rect class="bp" width="65.3" height="65"/><text class="s" x="32.4" y="39.5"><tspan class="m" dy="-10.5">85</tspan><tspan dy="10.5">Nb</tspan></text><text class="d" x="32.4" y="49">β+</text></g>
<g id="Nb86" transform="translate(793.35 628.75) scale(1.1 1)"><rect class="bp" width="65.3" height="65"/><text class="s" x="32.4" y="39.5"><tspan class="m" dy="-10.5">86</tspan><tspan dy="10.5">Nb</tspan></text><text class="d" x="32.4" y="49">β+</text></g>
<g id="Nb87" transform="translate(864.7 628.75) scale(1.1 1)"><rect class="bp" width="65.3" height="65"/><text class="s" x="32.4" y="39.5"><tspan class="m" dy="-10.5">87</tspan><tspan dy="10.5">Nb</tspan></text><text class="d" x="32.4" y="49">β+</text></g>
<g id="Nb88" transform="translate(936.05 628.75) scale(1.1 1)"><rect class="bp" width="65.3" height="65"/><text class="s" x="32.4" y="39.5"><tspan class="m" dy="-10.5">88</tspan><tspan dy="10.5">Nb</tspan></text><text class="d" x="32.4" y="49">β+</text></g>
<g id="Nb89" transform="translate(1007.4 628.75) scale(1.1 1)"><rect class="bp" width="65.3" height="65"/><text class="s" x="32.4" y="39.5"><tspan class="m" dy="-10.5">89</tspan><tspan dy="10.5">Nb</tspan></text><text class="d" x="32.4" y="49">β+</text></g>
<g id="Nb90" transform="translate(1078.75 628.75) scale(1.1 1)"><rect class="bp" width="65.3" height="65"/><text class="s" x="32.4" y="39.5"><tspan class="m" dy="-10.5">90</tspan><tspan dy="10.5">Nb</tspan></text><text class="d" x="32.4" y="49">β+</text></g>
<g id="Nb91" transform="translate(1150.1 628.75) scale(1.1 1)"><rect class="ec" width="65.3" height="65"/><text class="s" x="32.4" y="39.5"><tspan class="m" dy="-10.5">91</tspan><tspan dy="10.5">Nb</tspan></text><text class="d" x="32.4" y="49">e- capture</text></g>
<g id="Nb92" transform="translate(1221.45 628.75) scale(1.1 1)"><rect class="bp" width="65.3" height="65"/><text class="s" x="32.4" y="39.5"><tspan class="m" dy="-10.5">92</tspan><tspan dy="10.5">Nb</tspan></text><text class="d" x="32.4" y="49">β+</text></g>
<g id="Nb93" class="w" transform="translate(1292.8 628.75) scale(1.1 1)"><rect class="st" width="65.3" height="65"/><text class="s" x="32.4" y="39.5"><tspan class="m" dy="-10.5">93</tspan><tspan dy="10.5">Nb</tspan></text><text class="d" x="32.4" y="49">Stable</text></g>
<!-- Zr -->
<g id="Zr77" transform="translate(222.55 693.2) scale(1.1 1)"><rect class="bp" width="65.3" height="65"/><rect class="es" x="8.2" y="11" width="45.5" height="42"/><text class="s" x="32.4" y="39.5"><tspan class="m" dy="-10.5">77</tspan><tspan dy="10.5">Zr</tspan></text><text class="d" x="32.4" y="49">β+</text></g>
<g id="Zr78" transform="translate(293.9 693.2) scale(1.1 1)"><rect class="bp" width="65.3" height="65"/><rect class="es" x="8.2" y="11" width="45.5" height="42"/><text class="s" x="32.4" y="39.5"><tspan class="m" dy="-10.5">78</tspan><tspan dy="10.5">Zr</tspan></text><text class="d" x="32.4" y="49">β+</text></g>
<g id="Zr79" transform="translate(365.25 693.2) scale(1.1 1)"><rect class="bp" width="65.3" height="65"/><text class="s" x="32.4" y="39.5"><tspan class="m" dy="-10.5">79</tspan><tspan dy="10.5">Zr</tspan></text><text class="d" x="32.4" y="49">β+</text></g>
<g id="Zr80" transform="translate(436.6 693.2) scale(1.1 1)"><rect class="bp" width="65.3" height="65"/><text class="s" x="32.4" y="39.5"><tspan class="m" dy="-10.5">80</tspan><tspan dy="10.5">Zr</tspan></text><text class="d" x="32.4" y="49">β+</text></g>
<g id="Zr81" transform="translate(507.95 693.2) scale(1.1 1)"><rect class="bp" width="65.3" height="65"/><text class="s" x="32.4" y="39.5"><tspan class="m" dy="-10.5">81</tspan><tspan dy="10.5">Zr</tspan></text><text class="d" x="32.4" y="49">β+</text></g>
<g id="Zr82" transform="translate(579.3 693.2) scale(1.1 1)"><rect class="bp" width="65.3" height="65"/><text class="s" x="32.4" y="39.5"><tspan class="m" dy="-10.5">82</tspan><tspan dy="10.5">Zr</tspan></text><text class="d" x="32.4" y="49">β+</text></g>
<g id="Zr83" transform="translate(650.65 693.2) scale(1.1 1)"><rect class="bp" width="65.3" height="65"/><text class="s" x="32.4" y="39.5"><tspan class="m" dy="-10.5">83</tspan><tspan dy="10.5">Zr</tspan></text><text class="d" x="32.4" y="49">β+</text></g>
<g id="Zr84" transform="translate(722 693.2) scale(1.1 1)"><rect class="bp" width="65.3" height="65"/><text class="s" x="32.4" y="39.5"><tspan class="m" dy="-10.5">84</tspan><tspan dy="10.5">Zr</tspan></text><text class="d" x="32.4" y="49">β+</text></g>
<g id="Zr85" transform="translate(793.35 693.2) scale(1.1 1)"><rect class="bp" width="65.3" height="65"/><text class="s" x="32.4" y="39.5"><tspan class="m" dy="-10.5">85</tspan><tspan dy="10.5">Zr</tspan></text><text class="d" x="32.4" y="49">β+</text></g>
<g id="Zr86" transform="translate(864.7 693.2) scale(1.1 1)"><rect class="bp" width="65.3" height="65"/><text class="s" x="32.4" y="39.5"><tspan class="m" dy="-10.5">86</tspan><tspan dy="10.5">Zr</tspan></text><text class="d" x="32.4" y="49">β+</text></g>
<g id="Zr87" transform="translate(936.05 693.2) scale(1.1 1)"><rect class="bp" width="65.3" height="65"/><text class="s" x="32.4" y="39.5"><tspan class="m" dy="-10.5">87</tspan><tspan dy="10.5">Zr</tspan></text><text class="d" x="32.4" y="49">β+</text></g>
<g id="Zr88" transform="translate(1007.4 693.2) scale(1.1 1)"><rect class="ec" width="65.3" height="65"/><text class="s" x="32.4" y="39.5"><tspan class="m" dy="-10.5">88</tspan><tspan dy="10.5">Zr</tspan></text><text class="d" x="32.4" y="49">e- capture</text></g>
<g id="Zr89" transform="translate(1078.75 693.2) scale(1.1 1)"><rect class="bp" width="65.3" height="65"/><text class="s" x="32.4" y="39.5"><tspan class="m" dy="-10.5">89</tspan><tspan dy="10.5">Zr</tspan></text><text class="d" x="32.4" y="49">β+</text></g>
<g id="Zr90" class="w" transform="translate(1150.1 693.2) scale(1.1 1)"><rect class="st" width="65.3" height="65"/><text class="s" x="32.4" y="39.5"><tspan class="m" dy="-10.5">90</tspan><tspan dy="10.5">Zr</tspan></text><text class="d" x="32.4" y="49">Stable</text></g>
<g id="Zr91" class="w" transform="translate(1221.45 693.2) scale(1.1 1)"><rect class="st" width="65.3" height="65"/><text class="s" x="32.4" y="39.5"><tspan class="m" dy="-10.5">91</tspan><tspan dy="10.5">Zr</tspan></text><text class="d" x="32.4" y="49">Stable</text></g>
<g id="Zr92" class="w" transform="translate(1292.8 693.2) scale(1.1 1)"><rect class="st" width="65.3" height="65"/><text class="s" x="32.4" y="39.5"><tspan class="m" dy="-10.5">92</tspan><tspan dy="10.5">Zr</tspan></text><text class="d" x="32.4" y="49">Stable</text></g>
<!-- Y -->
<g id="Y75" transform="translate(151.2 757.65) scale(1.1 1)"><rect class="bp" width="65.3" height="65"/><rect class="es" x="8.2" y="11" width="45.5" height="42"/><text class="s" x="32.4" y="39.5"><tspan class="m" dy="-10.5">75</tspan><tspan dy="10.5">Y</tspan></text></g>
<g id="Y76" transform="translate(222.55 757.65) scale(1.1 1)"><rect class="bp" width="65.3" height="65"/><rect class="es" x="8.2" y="11" width="45.5" height="42"/><text class="s" x="32.4" y="39.5"><tspan class="m" dy="-10.5">76</tspan><tspan dy="10.5">Y</tspan></text></g>
<g id="Y77" transform="translate(293.9 757.65) scale(1.1 1)"><rect class="bp" width="65.3" height="65"/><text class="s" x="32.4" y="39.5"><tspan class="m" dy="-10.5">77</tspan><tspan dy="10.5">Y</tspan></text></g>
<g id="Y78" transform="translate(365.25 757.65) scale(1.1 1)"><rect class="bp" width="65.3" height="65"/><text class="s" x="32.4" y="39.5"><tspan class="m" dy="-10.5">78</tspan><tspan dy="10.5">Y</tspan></text></g>
<g id="Y79" transform="translate(436.6 757.65) scale(1.1 1)"><rect class="bp" width="65.3" height="65"/><text class="s" x="32.4" y="39.5"><tspan class="m" dy="-10.5">79</tspan><tspan dy="10.5">Y</tspan></text></g>
<g id="Y80" transform="translate(507.95 757.65) scale(1.1 1)"><rect class="bp" width="65.3" height="65"/><text class="s" x="32.4" y="39.5"><tspan class="m" dy="-10.5">80</tspan><tspan dy="10.5">Y</tspan></text></g>
<g id="Y81" transform="translate(579.3 757.65) scale(1.1 1)"><rect class="bp" width="65.3" height="65"/><text class="s" x="32.4" y="39.5"><tspan class="m" dy="-10.5">81</tspan><tspan dy="10.5">Y</tspan></text></g>
<g id="Y82" transform="translate(650.65 757.65) scale(1.1 1)"><rect class="bp" width="65.3" height="65"/><text class="s" x="32.4" y="39.5"><tspan class="m" dy="-10.5">82</tspan><tspan dy="10.5">Y</tspan></text></g>
<g id="Y83" transform="translate(722 757.65) scale(1.1 1)"><rect class="bp" width="65.3" height="65"/><text class="s" x="32.4" y="39.5"><tspan class="m" dy="-10.5">83</tspan><tspan dy="10.5">Y</tspan></text></g>
<g id="Y84" transform="translate(793.35 757.65) scale(1.1 1)"><rect class="bp" width="65.3" height="65"/><text class="s" x="32.4" y="39.5"><tspan class="m" dy="-10.5">84</tspan><tspan dy="10.5">Y</tspan></text></g>
<g id="Y85" transform="translate(864.7 757.65) scale(1.1 1)"><rect class="bp" width="65.3" height="65"/><text class="s" x="32.4" y="39.5"><tspan class="m" dy="-10.5">85</tspan><tspan dy="10.5">Y</tspan></text></g>
<g id="Y86" transform="translate(936.05 757.65) scale(1.1 1)"><rect class="bp" width="65.3" height="65"/><text class="s" x="32.4" y="39.5"><tspan class="m" dy="-10.5">86</tspan><tspan dy="10.5">Y</tspan></text></g>
<g id="Y87" transform="translate(1007.4 757.65) scale(1.1 1)"><rect class="bp" width="65.3" height="65"/><text class="s" x="32.4" y="39.5"><tspan class="m" dy="-10.5">87</tspan><tspan dy="10.5">Y</tspan></text></g>
<g id="Y88" transform="translate(1078.75 757.65) scale(1.1 1)"><rect class="bp" width="65.3" height="65"/><text class="s" x="32.4" y="39.5"><tspan class="m" dy="-10.5">88</tspan><tspan dy="10.5">Y</tspan></text></g>
<g id="Y89" class="w" transform="translate(1150.1 757.65) scale(1.1 1)"><rect class="st" width="65.3" height="65"/><text class="s" x="32.4" y="39.5"><tspan class="m" dy="-10.5">89</tspan><tspan dy="10.5">Y</tspan></text></g>
<g id="Y90" transform="translate(1221.45 757.65) scale(1.1 1)"><rect class="bm" width="65.3" height="65"/><text class="s" x="32.4" y="39.5"><tspan class="m" dy="-10.5">90</tspan><tspan dy="10.5">Y</tspan></text></g>
<g id="Y91" transform="translate(1292.8 757.65) scale(1.1 1)"><rect class="bm" width="65.3" height="65"/><text class="s" x="32.4" y="39.5"><tspan class="m" dy="-10.5">91</tspan><tspan dy="10.5">Y</tspan></text></g>

<g id="tile-lines" class="tl">
<line x1="722" y1="306.5" x2="1619" y2="306.5"/>
<line x1="365" y1="693.2" x2="1619" y2="693.2"/>
<line x1="364.8" y1="628.8" x2="364.8" y2="788"/>
<line x1="792.8" y1="242" x2="792.8" y2="788"/>
<line x1="1292.6" y1="43" x2="1292.6" y2="788"/>
</g>
<g id="magic-lines" class="mg">
<line x1="1078.75" y1="48.4" x2="1619" y2="48.4"/>
<line x1="1078.75" y1="113" x2="1619" y2="113"/>
<line x1="1149.7" y1="46.3" x2="1149.7" y2="788"/>
<line x1="1221.4" y1="46.3" x2="1221.4" y2="788"/>
</g>
<g id="markers">
<rect class="ym" x="933.8" y="152.3" width="13" height="14"/>
<rect class="ym" x="1009" y="151" width="13" height="14"/>
<rect class="ym" x="1149" y="153" width="13" height="14"/>
<rect class="ym" x="1145.5" y="87.5" width="13" height="14"/>
<rect class="ym" x="860.5" y="215.5" width="13" height="14"/>
<rect class="ym" x="933" y="211.5" width="13" height="14"/>
<rect class="ym" x="789.5" y="277.5" width="13" height="14"/>
<rect class="ym" x="865" y="277.5" width="13" height="14"/>
<rect class="ym" x="794" y="340.5" width="13" height="14"/>
<rect class="ym" x="719.5" y="404.5" width="13" height="14"/>
<rect class="ym" x="793.5" y="402.5" width="13" height="14"/>
<rect class="ym" x="508.5" y="469" width="13" height="14"/>
<rect class="ym" x="578.5" y="469" width="13" height="14"/>
<rect class="ym" x="648" y="469" width="13" height="14"/>
<rect class="pm" x="443.5" y="539" width="13" height="14"/>
<rect class="pm" x="519.5" y="540.5" width="13" height="14"/>
<rect class="pm" x="581" y="538" width="13" height="14"/>
<rect class="ym" x="367.5" y="602.5" width="13" height="14"/>
<rect class="ym" x="436" y="602.5" width="13" height="14"/>
<rect class="ym" x="502" y="602.5" width="13" height="14"/>
<rect class="pm" x="297.5" y="670" width="13" height="14"/>
<rect class="pm" x="377.5" y="667" width="13" height="14"/>
<rect class="pm" x="436" y="663.5" width="13" height="14"/>
<rect class="ym" x="290" y="727.5" width="13" height="14"/>
<rect class="ym" x="360.5" y="727.5" width="13" height="14"/>
</g>
<rect id="n50-column" class="ov" x="1151.8" y="48.7" width="72.2" height="655.3"/>
</g>

<g id="nz-line" transform="translate(454 727.3) rotate(-41.9)">
<rect x="-107" y="-35" width="107" height="63.5" fill="#fff"/>
<rect class="ov" x="-16" y="-35" width="1049.6" height="63.5"/>
<line x1="0" y1="0" x2="1011.4" y2="0" stroke="#00CC99" stroke-width="5.5"/>
<text class="bl" x="-53.5" y="9" text-anchor="middle">N=Z</text>
</g>

<g id="n48-label">
<rect x="1000" y="50.5" width="111.7" height="63.5" fill="#fff"/>
<text class="bl" x="1008.3" y="95">N=48</text>
</g>
<g id="n50-label">
<rect x="1139" y="0" width="118" height="50.5" fill="#fff"/>
<ellipse cx="1174.5" cy="79" rx="45" ry="47" fill="none" stroke="#00956F" stroke-width="5"/>
<text class="bl" x="1153.3" y="29.3">N=50</text>
</g>
<g id="sn100-label">
<text font-family="'Liberation Serif',serif" font-weight="bold" fill="#000"><tspan x="1160" y="89.3" font-size="23">100</tspan><tspan x="1194" y="101" font-size="37">Sn</tspan></text>
</g>

<g id="p-drip">
<path d="M857,172 H1065 V112 H929 V39.5 L1492,42.5" fill="none" stroke="#FF0000" stroke-width="5" stroke-dasharray="14 6"/>
<text x="818" y="88.3" font-family="'Liberation Serif',serif" font-size="35" fill="#FF0000">p-drip line</text>
</g>

<g id="ru-tc-label">
<rect x="522.7" y="21.7" width="194.6" height="186.6" fill="#fff" stroke="#FF0000" stroke-width="3"/>
<text class="rd" font-size="32" x="546" y="66.7">88</text>
<text class="rd" font-size="32" x="546" y="100">44</text>
<text class="rd" font-size="46" x="593" y="82.7">Ru</text>
<text class="rd" font-size="32" x="661" y="93.3">44</text>
<text class="rd" font-size="32" x="546" y="163.3">87</text>
<text class="rd" font-size="32" x="546" y="195">43</text>
<text class="rd" font-size="46" x="593" y="179.3">Tc</text>
<text class="rd" font-size="32" x="654" y="190.7">44</text>
</g>
<rect id="ru-tc-highlight" x="722.9" y="430.7" width="70.2" height="137.3" fill="none" stroke="#FF0000" stroke-width="3"/>
<g id="connectors">
<line x1="716.6" y1="206.7" x2="754.6" y2="418" stroke="#FF0000" stroke-width="3"/>
<polygon points="756.7,430 747,415.5 760.8,413" fill="#FF0000"/>
</g>

<g id="legend-left">
<g id="lg-unknown"><rect x="12.5" y="87.3" width="55.4" height="55" fill="#FFCCCC" stroke="#000" stroke-width="1.5"/><rect x="18.5" y="98.7" width="42.9" height="34.1" fill="none" stroke="#fff" stroke-width="3"/><text class="lg" x="76.8" y="131.7">Unknown</text></g>
<g id="lg-proton"><rect x="12.5" y="165.7" width="55.4" height="55" fill="#FFCCCC" stroke="#000" stroke-width="1.5"/><rect class="pm" x="16.3" y="204.7" width="10.8" height="13"/><text class="lg" x="76.8" y="212.7">Unknown proton emitter</text></g>
<g id="lg-half"><rect x="8.9" y="246.7" width="55.8" height="55" fill="#FFCCCC" stroke="#000" stroke-width="2.5"/><rect class="ym" x="11.9" y="285.7" width="12" height="13"/><text class="lg" x="76.8" y="294">Nucleus with only T<tspan font-size="22" dy="6">1/2</tspan><tspan dy="-6"> known</tspan></text></g>
<g id="lg-excited"><rect x="8.9" y="316" width="55.8" height="55" fill="#FFCCCC" stroke="#000" stroke-width="1.5"/><text class="lg" x="78" y="362.3">Nucleus with ⩾ 1 excited state known</text></g>
</g>

<g id="legend-decay">
<rect x="1358" y="558.3" width="265" height="242.7" fill="#fff"/>
<text class="lt" transform="matrix(1.12 0 0 1 1376 588.3)">Primary Decay Mode</text>
<rect x="1375" y="600" width="18.3" height="16.7" fill="#000"/>
<rect x="1375" y="619.2" width="18.3" height="16.7" fill="#ADD8E6"/>
<rect x="1375" y="638.4" width="18.3" height="16.7" fill="#87CEFA"/>
<rect x="1375" y="657.6" width="18.3" height="16.7" fill="#5F9EA0"/>
<rect x="1375" y="676.8" width="18.3" height="16.7" fill="#4682B4"/>
<rect x="1375" y="696" width="18.3" height="16.7" fill="#D9A0A0"/>
<rect x="1375" y="715.2" width="18.3" height="16.7" fill="#DDA0DD"/>
<text class="lt" transform="matrix(1.12 0 0 1 1396.7 614.8)">Stable</text>
<text class="lt" transform="matrix(1.12 0 0 1 1396.7 634)">β-</text>
<text class="lt" transform="matrix(1.12 0 0 1 1396.7 653.2)">2β-</text>
<text class="lt" transform="matrix(1.12 0 0 1 1396.7 672.4)">n</text>
<text class="lt" transform="matrix(1.12 0 0 1 1396.7 691.6)">2n</text>
<text class="lt" transform="matrix(1.12 0 0 1 1396.7 710.8)">e- capture</text>
<text class="lt" transform="matrix(1.12 0 0 1 1396.7 730)">e+</text>
<rect x="1514" y="600" width="18.6" height="16.7" fill="#FFC0CB"/>
<rect x="1514" y="619.2" width="18.6" height="16.7" fill="#FF69B4"/>
<rect x="1514" y="638.4" width="18.6" height="16.7" fill="#F08080"/>
<rect x="1514" y="657.6" width="18.6" height="16.7" fill="#CD5C5C"/>
<rect x="1514" y="676.8" width="18.6" height="16.7" fill="#FFFF00"/>
<rect x="1514" y="696" width="18.6" height="16.7" fill="#008000"/>
<text class="lt" transform="matrix(1.12 0 0 1 1536.7 614.8)">β+</text>
<text class="lt" transform="matrix(1.12 0 0 1 1536.7 634)">2β+</text>
<text class="lt" transform="matrix(1.12 0 0 1 1536.7 653.2)">p</text>
<text class="lt" transform="matrix(1.12 0 0 1 1536.7 672.4)">2p</text>
<text class="lt" transform="matrix(1.12 0 0 1 1536.7 691.6)">α</text>
<text class="lt" transform="matrix(1.12 0 0 1 1536.7 710.8)">Fission</text>
<rect x="1374.8" y="742.2" width="18.7" height="14.6" fill="#fff" stroke="#000" stroke-width="3"/>
<rect x="1374.8" y="761" width="18.7" height="15.8" fill="#fff" stroke="#CCC" stroke-width="3"/>
<rect x="1516" y="741.7" width="18.3" height="17.6" fill="#CCC"/>
<text class="lt" transform="matrix(1.12 0 0 1 1396.7 756.5)">Stable</text>
<text class="lt" transform="matrix(1.12 0 0 1 1396.7 775)">Estimated</text>
<text class="lt" transform="matrix(1.12 0 0 1 1537.3 756.5)">Unknown</text>
</g>
</svg>
